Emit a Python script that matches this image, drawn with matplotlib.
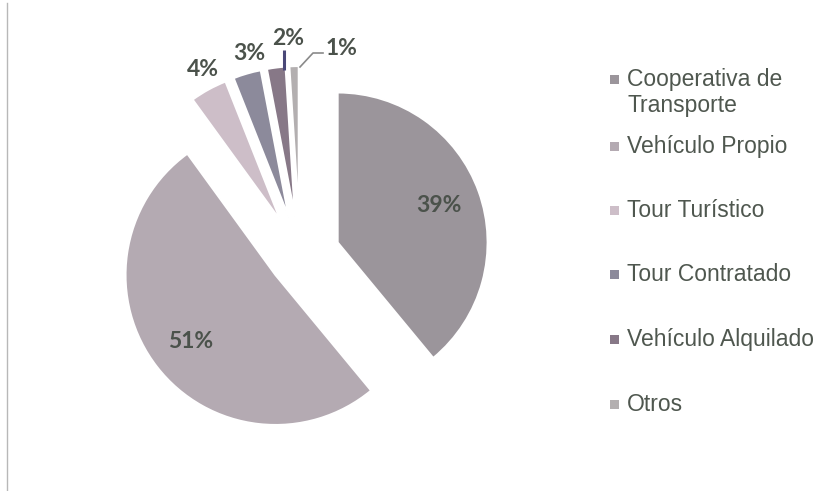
import math
import matplotlib
matplotlib.use("Agg")
import matplotlib.pyplot as plt
from matplotlib.patches import Rectangle

categories = ["Cooperativa de\nTransporte", "Vehículo Propio", "Tour Turístico",
              "Tour Contratado", "Vehículo Alquilado", "Otros"]
shares = [39, 51, 4, 3, 2, 1]
colors = ["#9b959b", "#b4aab2", "#cdbec8", "#8c8a9b", "#877887", "#b3afb0"]

W, H = 830, 491
text_color = "#4b524b"

fig = plt.figure(figsize=(W / 100, H / 100), dpi=100)
ax = fig.add_axes([0, 0, 1, 1])

# pie in pixel units (y measured from the bottom)
radius = 150
cx, cy = 300, H - 256
explode_px = [40, 31, 40, 40, 40, 40]
wedges, _ = ax.pie(shares, colors=colors, radius=radius, center=(cx, cy),
                   startangle=90, counterclock=False, explode=explode_px,
                   wedgeprops=dict(edgecolor="white", linewidth=1.5))

ax.set_xlim(0, W)
ax.set_ylim(0, H)
ax.set_aspect("equal")
ax.axis("off")

label_font = dict(family=["Lato", "DejaVu Sans"], fontsize=16.5,
                  fontweight="bold", color=text_color)

# big slices: labels inside the wedge
total = sum(shares)
for w, v in zip(wedges[:2], shares[:2]):
    mid = math.radians((w.theta1 + w.theta2) / 2)
    x0, y0 = w.center
    ax.text(x0 + 0.72 * radius * math.cos(mid), y0 + 0.72 * radius * math.sin(mid),
            f"{round(100 * v / total)}%", ha="center", va="center", **label_font)

# small slices: labels outside, two with leader lines
small_pos = [(203, 69), (249, 53), (288, 38), (341, 48)]
for (px, py), v in zip(small_pos, shares[2:]):
    ax.text(px, H - py, f"{round(100 * v / total)}%", ha="center", va="center",
            **label_font)
ax.plot([284, 284], [H - 50, H - 70], color="#4a4878", lw=2.2,
        solid_capstyle="butt")
ax.plot([323, 313, 300], [H - 53, H - 53, H - 67], color="#8a8a8a", lw=1.2)

# legend drawn by hand, one text per line
legend_font = dict(family=["Liberation Sans", "DejaVu Sans"], fontsize=16.5,
                   color="#4f574f")
baselines = [86, 153, 217, 281, 346, 411]
for name, c, yb in zip(categories, colors, baselines):
    ax.add_patch(Rectangle((610, H - yb + 2), 9, 9, facecolor=c,
                           edgecolor="none"))
    for k, line in enumerate(name.split("\n")):
        ax.text(627, H - yb - 26 * k, line, ha="left", va="baseline",
                **legend_font)

# thin frame edge on the left
ax.plot([7, 7], [0, H - 3], color="#b8b8b8", lw=1)

fig.savefig("out.png", dpi=100, facecolor="white")
